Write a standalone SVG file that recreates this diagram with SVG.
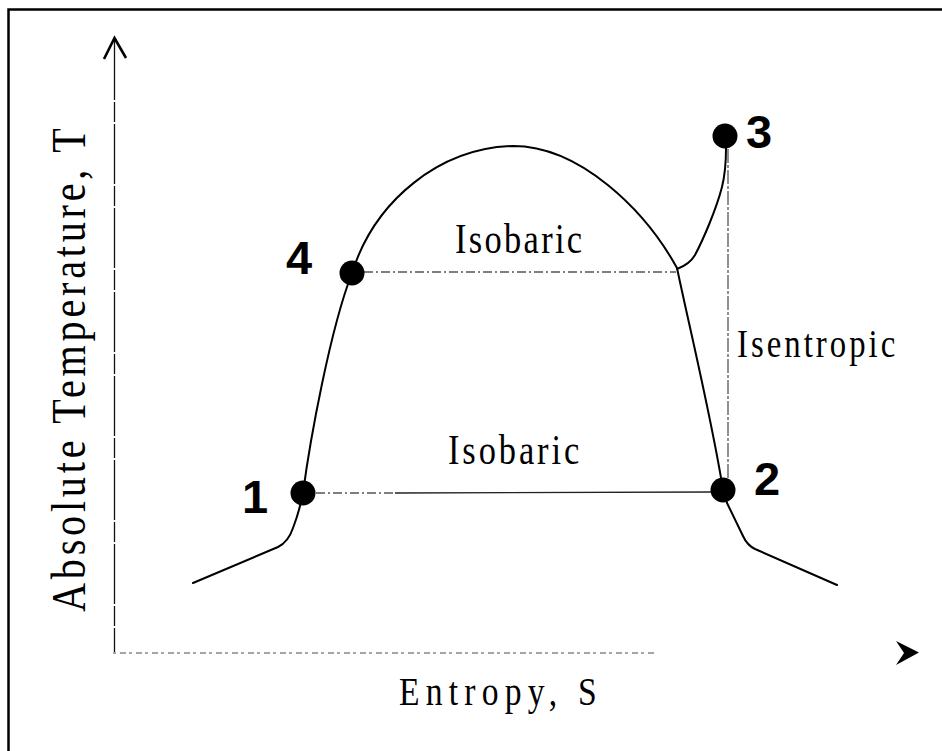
<svg xmlns="http://www.w3.org/2000/svg" width="942" height="751" viewBox="0 0 942 751">
<style>
.curve{fill:none;stroke:#000;stroke-width:2;stroke-linejoin:round;stroke-linecap:round}
.dash{fill:none;stroke:#555;stroke-width:1.4;stroke-dasharray:9 3 2 3}
.serif{font-family:"Liberation Serif","Times New Roman",serif;fill:#000}
.num{font-family:"Liberation Sans",Arial,sans-serif;font-weight:bold;font-size:47px;fill:#000;text-anchor:middle}
.dot{fill:#000}
</style>
<rect width="942" height="751" fill="#fff"/>
<path d="M8.5,751 L8.5,9.5 L942,9.5" fill="none" stroke="#000" stroke-width="2.5"/>
<g id="axes">
<line x1="114.5" y1="40" x2="114.5" y2="652" stroke="#111" stroke-width="1.3" stroke-dasharray="60 2 20 2"/>
<polyline points="104,59 114.5,38 126,58" fill="none" stroke="#000" stroke-width="2.6" stroke-linejoin="miter"/>
<line x1="113" y1="653" x2="655" y2="653" stroke="#888" stroke-width="1.3" stroke-dasharray="3 4 6 3"/>
<polygon points="896,641 919,652.5 896,665 904,653" fill="#000"/>
<text class="serif" font-size="49" transform="translate(85,612) rotate(-90) scale(0.82,1)" textLength="590" lengthAdjust="spacing">Absolute Temperature, T</text>
<text class="serif" font-size="41" transform="translate(399,705) scale(0.82,1)" textLength="241" lengthAdjust="spacing">Entropy, S</text>
</g>
<g id="connectors">
<path class="curve" d="M193,583 L278,547 C286,543 290,537 293,528 C298,515 301,503 303,493 C310,440 330,330 352,273 C375,200 440,148 513,146 C580,146 645,210 677,268 C690,330 712,420 723,490 L727,503 L743,536 Q747,545 755,549 L837,585"/>
<path class="curve" d="M677,269 C685,266 691,262 695,255 C703,240 716,210 722,187 C725,175 726,160 726,148"/>
<line class="dash" x1="364" y1="272" x2="676" y2="272"/>
<line class="dash" x1="316" y1="493" x2="395" y2="493"/>
<line x1="395" y1="493" x2="711" y2="492" stroke="#222" stroke-width="1.4"/>
<line x1="728" y1="149" x2="728" y2="478" stroke="#555" stroke-width="1.3" stroke-dasharray="14 2 3 2"/>
</g>
<g id="labels">
<text class="serif" font-size="42" transform="translate(455,253) scale(0.82,1)" textLength="155" lengthAdjust="spacing">Isobaric</text>
<text class="serif" font-size="42" transform="translate(448,464) scale(0.82,1)" textLength="160" lengthAdjust="spacing">Isobaric</text>
<text class="serif" font-size="40" transform="translate(737,357) scale(0.82,1)" textLength="193" lengthAdjust="spacing">Isentropic</text>
</g>
<g id="p1"><circle class="dot" cx="303" cy="493" r="12.5"/><text class="num" x="255" y="513">1</text></g>
<g id="p2"><circle class="dot" cx="723" cy="490" r="12.5"/><text class="num" x="767" y="495">2</text></g>
<g id="p3"><circle class="dot" cx="725" cy="136" r="12.5"/><text class="num" x="759" y="148">3</text></g>
<g id="p4"><circle class="dot" cx="352" cy="273" r="12.5"/><text class="num" x="299" y="274">4</text></g>
</svg>
